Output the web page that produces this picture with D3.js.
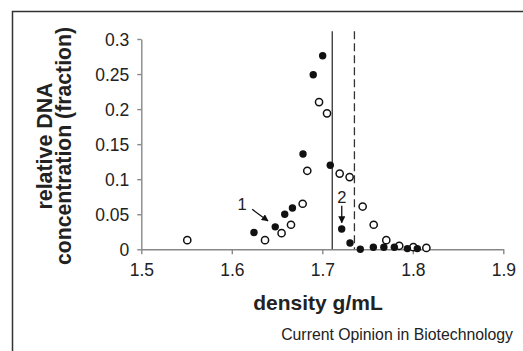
<!DOCTYPE html>
<html>
<head>
<meta charset="utf-8">
<script src="https://cdn.jsdelivr.net/npm/d3@7"></script>
<style>
  html, body { margin: 0; padding: 0; background: #fff; }
  svg { display: block; font-family: "Liberation Sans", Arial, sans-serif; }
</style>
</head>
<body>
<svg id="chart" width="523" height="351"></svg>
<script>
// density (g/mL) and relative DNA fraction
const filledDensity = [1.6245, 1.648, 1.6585, 1.667, 1.6787, 1.690, 1.7004, 1.7088, 1.7214, 1.7306, 1.742, 1.7564, 1.768, 1.7796, 1.794, 1.805];
const filledFraction = [0.024, 0.032, 0.050, 0.059, 0.136, 0.249, 0.276, 0.120, 0.029, 0.009, 0.000, 0.003, 0.003, 0.003, 0.001, 0.001];

const openDensity = [1.5508, 1.6367, 1.655, 1.6654, 1.6783, 1.6834, 1.6964, 1.7052, 1.7192, 1.7302, 1.7446, 1.7568, 1.7707, 1.785, 1.8006, 1.815];
const openFraction = [0.013, 0.013, 0.023, 0.035, 0.065, 0.112, 0.210, 0.194, 0.108, 0.103, 0.061, 0.035, 0.013, 0.005, 0.003, 0.002];

// reference densities: solid line, dashed line
const refLines = [1.711, 1.7355];
const refTop = 0.311;

const xTicks = [1.5, 1.6, 1.7, 1.8, 1.9];
const yTicks = [0, 0.05, 0.1, 0.15, 0.2, 0.25, 0.3];

// arrow annotations: label, arrow start and end in data units
const notes = [
  { label: '1', lx: 1.6115, ly: 0.056, x1: 1.6225, y1: 0.057, x2: 1.640, y2: 0.0405 },
  { label: '2', lx: 1.7215, ly: 0.066, x1: 1.7215, y1: 0.062, x2: 1.7215, y2: 0.038 }
];

const svg = d3.select('#chart');
const ink = '#222';
const axisGrey = '#888';

// frame around the figure (cropped on right and bottom)
svg.append('path')
  .attr('d', 'M12.5,351 V11.5 H523')
  .attr('fill', 'none')
  .attr('stroke', '#333')
  .attr('stroke-width', 1.5);

const x = d3.scaleLinear().domain([1.5, 1.9]).range([141.3, 503.3]);
const y = d3.scaleLinear().domain([0, 0.3]).range([249.3, 39]);

const fmt = d => d === 0 ? '0' : String(+d.toFixed(2));

// axes
const yAxis = svg.append('g')
  .attr('transform', `translate(${x(1.5)},0)`)
  .call(d3.axisLeft(y).tickValues(yTicks).tickFormat(fmt).tickSizeInner(4).tickSizeOuter(0).tickPadding(8));

const xAxis = svg.append('g')
  .attr('transform', `translate(0,${y(0)})`)
  .call(d3.axisBottom(x).tickValues(xTicks).tickFormat(d3.format('.1f')).tickSizeInner(5).tickSizeOuter(0).tickPadding(6));

[yAxis, xAxis].forEach(a => {
  a.select('.domain').attr('stroke', axisGrey).attr('stroke-width', 1.4);
  a.selectAll('.tick line').attr('stroke', axisGrey).attr('stroke-width', 1.4);
  a.selectAll('.tick text')
    .attr('fill', ink)
    .style('font-size', '17.5px')
    .style('font-family', '"Liberation Sans", Arial, sans-serif');
});
yAxis.selectAll('.tick text').attr('dy', '0.36em');
xAxis.selectAll('.tick text').attr('dy', '0.9em');

// reference lines
svg.append('g').selectAll('line')
  .data(refLines)
  .join('line')
  .attr('x1', d => x(d)).attr('x2', d => x(d))
  .attr('y1', y(refTop)).attr('y2', y(0))
  .attr('stroke', '#333')
  .attr('stroke-width', 1.3)
  .attr('stroke-dasharray', (d, i) => i === 1 ? '8,4' : null);

// points
const filled = d3.zip(filledDensity, filledFraction);
const open = d3.zip(openDensity, openFraction);

svg.append('g').selectAll('circle')
  .data(open)
  .join('circle')
  .attr('cx', d => x(d[0]))
  .attr('cy', d => y(d[1]))
  .attr('r', 3.6)
  .attr('fill', '#fff')
  .attr('stroke', '#111')
  .attr('stroke-width', 1.5);

svg.append('g').selectAll('circle')
  .data(filled)
  .join('circle')
  .attr('cx', d => x(d[0]))
  .attr('cy', d => y(d[1]))
  .attr('r', 3.7)
  .attr('fill', '#111');

// arrows
svg.append('defs').append('marker')
  .attr('id', 'head')
  .attr('viewBox', '0 0 10 10')
  .attr('refX', 9).attr('refY', 5)
  .attr('markerWidth', 7).attr('markerHeight', 7)
  .attr('markerUnits', 'userSpaceOnUse')
  .attr('orient', 'auto')
  .append('path')
  .attr('d', 'M0,0 L10,5 L0,10 z')
  .attr('fill', '#111');

const note = svg.append('g').selectAll('g').data(notes).join('g');
note.append('line')
  .attr('x1', d => x(d.x1)).attr('y1', d => y(d.y1))
  .attr('x2', d => x(d.x2)).attr('y2', d => y(d.y2))
  .attr('stroke', '#111')
  .attr('stroke-width', 1.3)
  .attr('marker-end', 'url(#head)');
note.append('text')
  .attr('x', d => x(d.lx)).attr('y', d => y(d.ly))
  .attr('text-anchor', 'middle')
  .attr('fill', ink)
  .style('font-size', '16.5px')
  .text(d => d.label);

// axis titles
svg.append('text')
  .attr('x', 318).attr('y', 310)
  .attr('text-anchor', 'middle')
  .attr('fill', ink)
  .style('font-size', '21px')
  .style('font-weight', 'bold')
  .text('density g/mL');

const yTitle = svg.append('text')
  .attr('transform', 'translate(0,146) rotate(-90)')
  .attr('text-anchor', 'middle')
  .attr('fill', ink)
  .style('font-size', '22px')
  .style('font-weight', 'bold');
yTitle.append('tspan').attr('x', 0).attr('y', 52)
  .attr('textLength', 127).attr('lengthAdjust', 'spacingAndGlyphs')
  .text('relative DNA');
yTitle.append('tspan').attr('x', 0).attr('y', 71)
  .attr('textLength', 238).attr('lengthAdjust', 'spacingAndGlyphs')
  .text('concentration (fraction)');

// source caption
svg.append('text')
  .attr('x', 513).attr('y', 340)
  .attr('text-anchor', 'end')
  .attr('fill', ink)
  .style('font-size', '15.8px')
  .text('Current Opinion in Biotechnology');
</script>
</body>
</html>
